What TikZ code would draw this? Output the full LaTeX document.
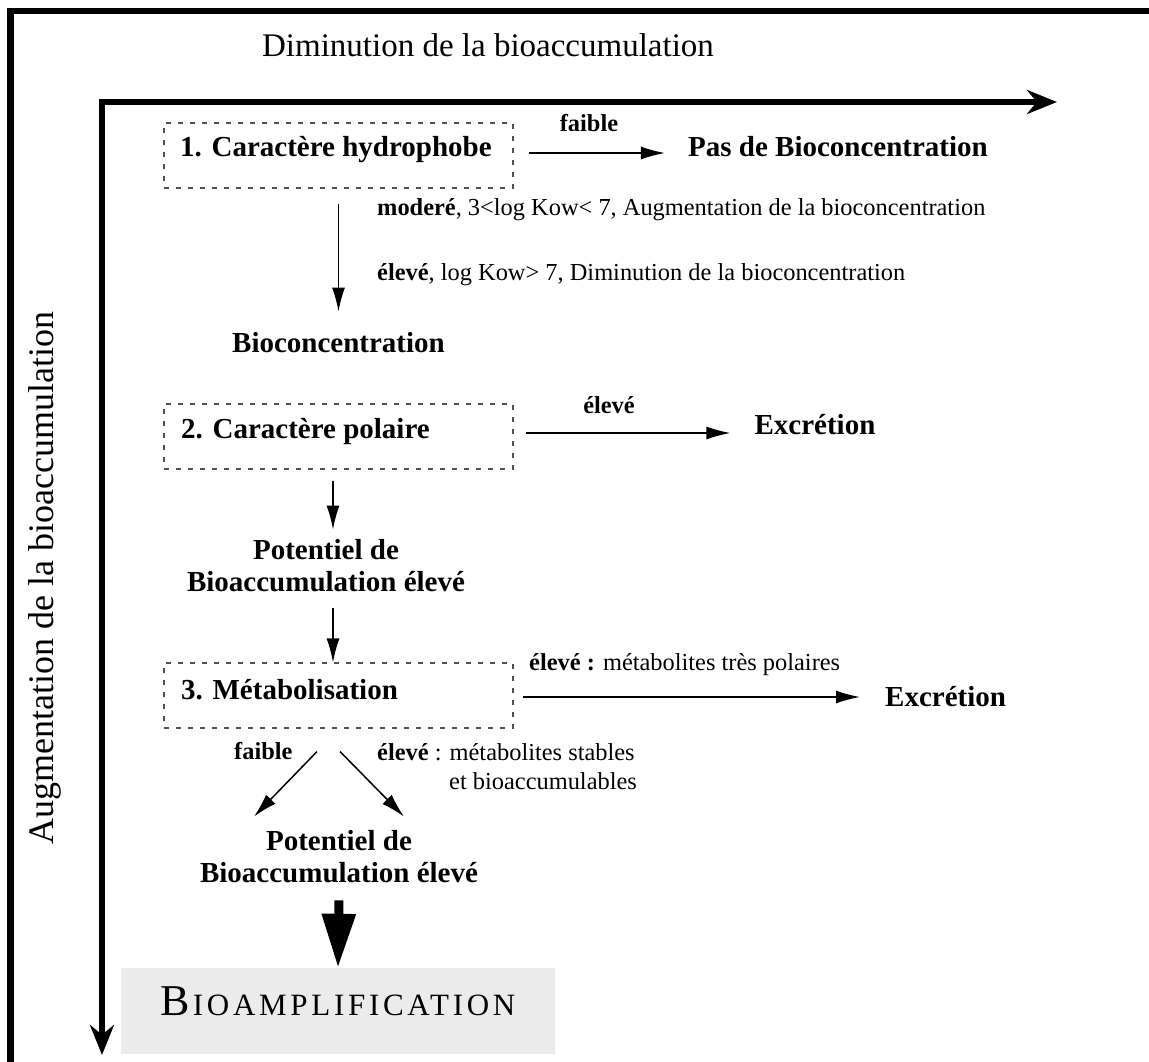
\documentclass[tikz,border=0pt]{standalone}
\usepackage{fontspec}
\setmainfont{Liberation Serif}
\usetikzlibrary{arrows.meta,calc}
\definecolor{ampgray}{RGB}{235,235,235}
\definecolor{dashgray}{RGB}{80,80,80}
\begin{document}
\begin{tikzpicture}[x=1pt,y=-1pt,
  box/.style={draw=dashgray, line width=1.1pt, dash pattern=on 5pt off 7pt, minimum width=349pt, minimum height=65pt, inner sep=0pt},
  big/.style={font=\fontsize{29}{32}\selectfont\bfseries, inner sep=0pt, align=center},
  small/.style={font=\fontsize{24.4}{28}\selectfont, inner sep=0pt},
  smallb/.style={font=\fontsize{24.4}{28}\selectfont\bfseries, inner sep=0pt},
  arr/.style={line width=1.5pt, -{Latex[length=24pt,width=13pt]}},
  axis/.style={line width=6pt, line join=miter, {Stealth[length=30pt,width=24pt]}-{Stealth[length=30pt,width=24pt]}},
  axislabel/.style={font=\fontsize{33}{36}\selectfont, inner sep=0pt},
  vaxislabel/.style={font=\fontsize{36}{38}\selectfont, inner sep=0pt},
  ampbox/.style={fill=ampgray, minimum width=434pt, minimum height=86pt, inner sep=0pt}
]
\useasboundingbox (0,0) rectangle (1149,1062);
% frame
\fill (7,8) rectangle (1149,14);
\fill (7,8) rectangle (14,1062);
% axes
\coordinate (o) at (102,102);
\coordinate (xe) at (1057,102);
\coordinate (ye) at (102,1055);
\draw[axis] (xe) -- (o) -- (ye);
\node[axislabel] (title) at (488,45) {Diminution de la bioaccumulation};
\node[vaxislabel, rotate=90] (vtitle) at (45,578) {Augmentation de la bioaccumulation};
% step 1
\node[box] (b1) at (338.5,155.5) {};
\node[big, anchor=west] (t1) at (180,150) {1. Caractère hydrophobe};
\node[smallb] (faible1) at (589,123) {faible};
\node[big] (pas) at (838,147) {Pas de Bioconcentration};
\node[small, anchor=west] (mod) at (377,210) {\textbf{moderé}, 3<log Kow< 7, Augmentation de la bioconcentration};
\node[small, anchor=west] (elev1) at (377,275) {\textbf{élevé}, log Kow> 7, Diminution de la bioconcentration};
\node[big] (bioc) at (338.5,343) {Bioconcentration};
\draw[arr] ($(b1.east)+(15,-2.5)$) -- ($(pas.west)+(-23,6)$);
\draw[arr] ($(b1.south)+(0,15)$) -- ($(bioc.north)+(0,-21)$);
% step 2
\node[box] (b2) at (338.5,436.5) {};
\node[big, anchor=west] (t2) at (181,432) {2. Caractère polaire};
\node[smallb] (eleve2) at (609,405) {élevé};
\node[big] (exc1) at (815,425) {Excrétion};
\node[big] (pot1) at (326,566) {Potentiel de\\Bioaccumulation élevé};
\draw[arr] ($(b2.east)+(12,-3.5)$) -- ($(exc1.west)+(-24,8)$);
\draw[arr] ($(b2.south)+(-5.5,11)$) -- ($(pot1.north)+(7,-10)$);
% step 3
\node[box] (b3) at (338.5,695.5) {};
\node[big, anchor=west] (t3) at (181,690) {3. Métabolisation};
\draw[arr] ($(pot1.south)+(7,16)$) -- ($(b3.north)+(-5.5,0)$);
\node[small, anchor=west] (eleve3) at (529,665) {\textbf{élevé :} métabolites très polaires};
\node[big, anchor=west] (exc2) at (885,697) {Excrétion};
\draw[arr] ($(b3.east)+(9,1.5)$) -- ($(exc2.west)+(-25,0)$);
\node[smallb, anchor=west] (faible3) at (234,751) {faible};
\node[small, anchor=west] (eleve4a) at (377,752) {\textbf{élevé} : métabolites stables};
\node[small, anchor=west] (eleve4b) at (449,781) {et bioaccumulables};
\node[big] (pot2) at (339,857) {Potentiel de\\Bioaccumulation élevé};
\draw[arr] ($(b3.south)+(-21.5,23)$) -- ($(pot2.north)+(-85,-14)$);
\draw[arr] ($(b3.south)+(1.5,23)$) -- ($(pot2.north)+(65,-14)$);
% bioamplification
\node[ampbox] (amp) at (338,1011) {};
\node[inner sep=0pt] (ampt) at (338,1001) {\fontsize{44}{48}\selectfont B\kern3pt\fontsize{31}{34}\selectfont\addfontfeatures{LetterSpace=12}IOAMPLIFICATION};
\draw[line width=9pt, -{Triangle[length=54pt,width=32pt]}] ($(pot2.south)+(0,17)$) -- (amp.north);
\end{tikzpicture}
\end{document}
